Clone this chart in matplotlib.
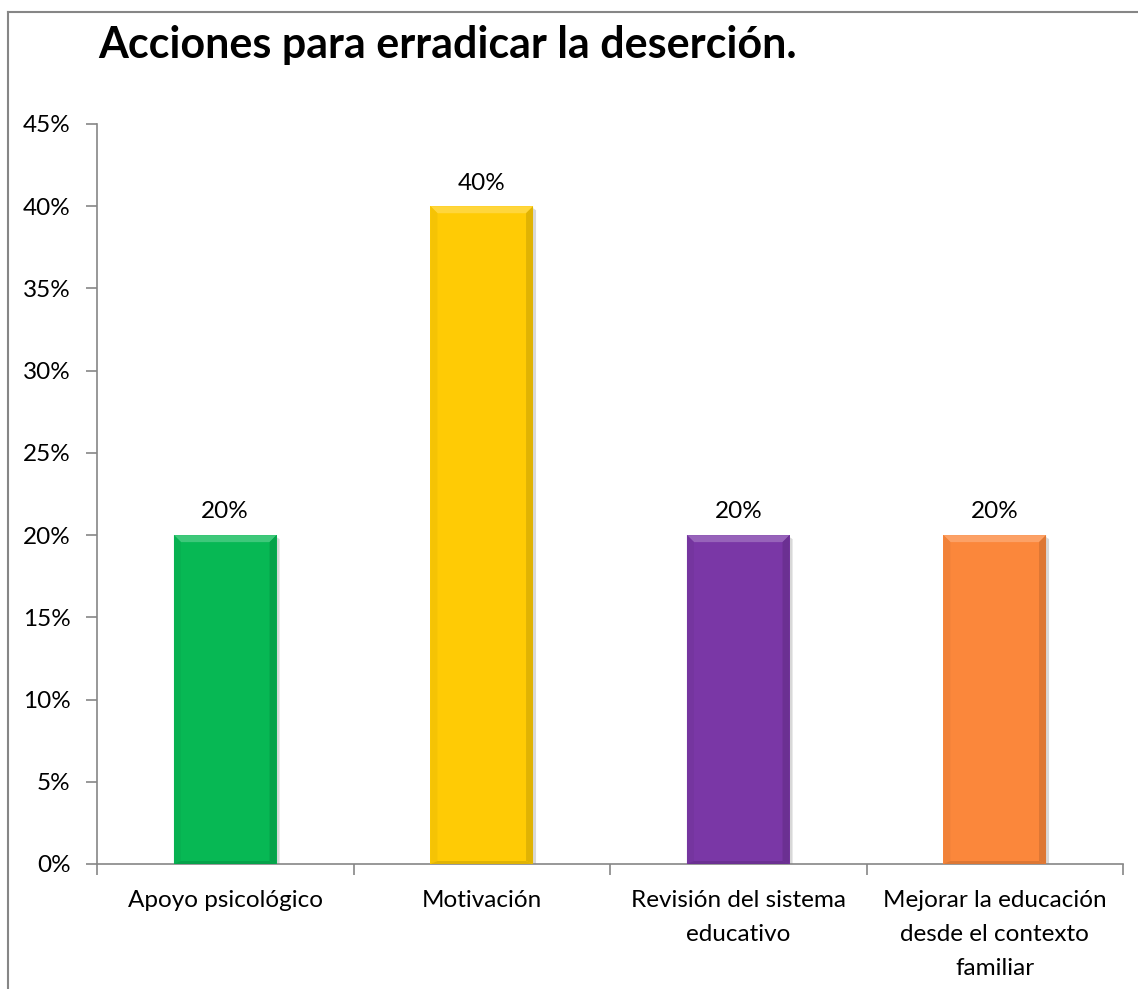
import matplotlib
matplotlib.use("Agg")
import matplotlib.pyplot as plt
from matplotlib.patches import Polygon
from matplotlib.lines import Line2D
from matplotlib.colors import to_rgb
import numpy as np

categories = ["Apoyo psicológico", "Motivación", "Revisión del sistema\neducativo",
              "Mejorar la educación\ndesde el contexto\nfamiliar"]
values = [20, 40, 20, 20]
colors = ["#07B854", "#FFCB05", "#7A37A6", "#FB873B"]
yticks = [0, 5, 10, 15, 20, 25, 30, 35, 40, 45]
title = "Acciones para erradicar la deserción."

plt.rcParams['font.family'] = ['Lato', 'DejaVu Sans']

W, H = 1138, 989
fig = plt.figure(figsize=(W/100, H/100), dpi=100)
ax = fig.add_axes([97/W, 1-864/H, (1123-97)/W, (864-124)/H])

x = np.arange(len(categories))
bars = ax.bar(x, values, width=0.4, color=colors, edgecolor="none", zorder=3)

FS = 17.5
ax.set_xlim(-0.5, len(categories)-0.5)
ax.set_ylim(0, 45)
ax.set_yticks(yticks)
ax.set_yticklabels([f"{v}%" for v in yticks], fontsize=FS, color="#000000")
ax.set_xticks(x)
ax.set_xticklabels(categories, fontsize=FS, linespacing=1.78, va="top")
ax.tick_params(axis="x", length=0, pad=18.5)
ax.tick_params(axis="y", length=8, width=1.2, color="#868686", pad=11)
ax.set_xticks(np.arange(-0.5, len(categories), 1.0), minor=True)
ax.tick_params(axis="x", which="minor", length=8, width=1.2, color="#868686", direction="out")
for s in ["top", "right"]:
    ax.spines[s].set_visible(False)
for s in ["left", "bottom"]:
    ax.spines[s].set_color("#868686")
    ax.spines[s].set_linewidth(1.2)

def mix(c, t, f):
    c = np.array(to_rgb(c)); t = np.array(to_rgb(t))
    return tuple(c*(1-f) + t*f)

fig.canvas.draw()
inv = ax.transData.inverted()
for b, c in zip(bars, colors):
    x0, y0 = b.get_x(), b.get_y()
    x1, y1 = x0 + b.get_width(), y0 + b.get_height()
    p0 = ax.transData.transform((x0, y0)); p1 = ax.transData.transform((x1, y1))
    d = 7
    def d2(px, py):
        return inv.transform((px, py))
    top = [d2(p0[0], p1[1]), d2(p1[0], p1[1]), d2(p1[0]-d, p1[1]-d), d2(p0[0]+d, p1[1]-d)]
    right = [d2(p1[0], p1[1]), d2(p1[0], p0[1]), d2(p1[0]-d, p0[1]+3), d2(p1[0]-d, p1[1]-d)]
    left = [d2(p0[0], p1[1]), d2(p0[0], p0[1]), d2(p0[0]+d, p0[1]+3), d2(p0[0]+d, p1[1]-d)]
    bot = [d2(p0[0], p0[1]), d2(p1[0], p0[1]), d2(p1[0]-d, p0[1]+3), d2(p0[0]+d, p0[1]+3)]
    ax.add_patch(Polygon(top, closed=True, color=mix(c, "white", 0.22), lw=0, zorder=4))
    ax.add_patch(Polygon(right, closed=True, color=mix(c, "black", 0.12), lw=0, zorder=4))
    ax.add_patch(Polygon(left, closed=True, color=mix(c, "black", 0.04), lw=0, zorder=4))
    ax.add_patch(Polygon(bot, closed=True, color=mix(c, "black", 0.12), lw=0, zorder=4))
    sh = [d2(p1[0], p1[1]-2), d2(p1[0]+3, p1[1]-4), d2(p1[0]+3, p0[1]), d2(p1[0], p0[1])]
    ax.add_patch(Polygon(sh, closed=True, color="#C8C8C8", lw=0, zorder=2, alpha=0.7))
    ax.annotate(f"{int(round(b.get_height()))}%", (b.get_x()+b.get_width()/2, y1),
                xytext=(0, 12), textcoords="offset points", ha="center", va="baseline",
                fontsize=FS, color="#000000")

fig.text(98/W, 1-58/H, title, fontsize=31, fontweight="bold", ha="left", va="baseline")

fig.add_artist(Line2D([8/W, 8/W], [0, 1-12/H], color="#868686", lw=1.5, transform=fig.transFigure))
fig.add_artist(Line2D([8/W, 1], [1-12/H, 1-12/H], color="#868686", lw=1.5, transform=fig.transFigure))

fig.savefig("out.png", dpi=100)
